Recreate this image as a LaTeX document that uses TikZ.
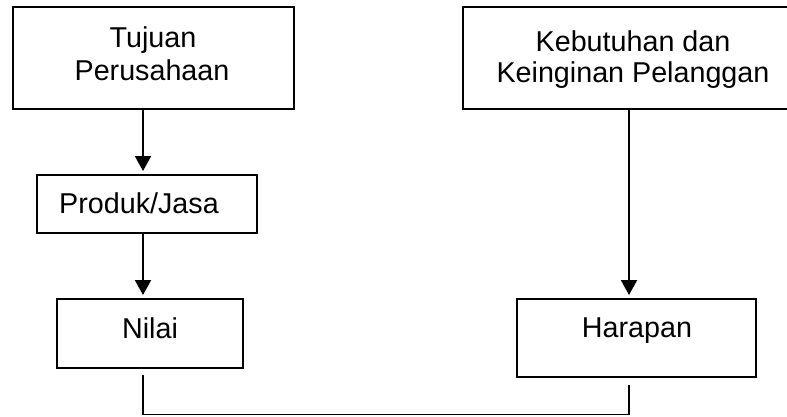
\documentclass[tikz,border=0pt]{standalone}
\usepackage{fontspec}
\setmainfont{Liberation Sans}
\usetikzlibrary{arrows.meta}
\begin{document}
\begin{tikzpicture}[x=1pt,y=-1pt,
  box/.style={draw=black, line width=2pt, rectangle, inner sep=0pt, outer sep=0pt},
  txt/.style={anchor=base, inner sep=0pt, text=black, font=\fontsize{28.7}{33}\selectfont},
  flow/.style={line width=2pt, -{Triangle[width=16pt,length=15pt]}, shorten >=4pt},
  link/.style={line width=1.3pt, shorten <=7pt, shorten >=8pt}]
\useasboundingbox (0,0) rectangle (787,416);
\clip (0,0) rectangle (787,416);

% columns used by the vertical connectors and the bottom rail
\coordinate (colL) at (143,0);
\coordinate (colR) at (629,0);
\coordinate (rail) at (0,414.8);

% boxes
\node[box, minimum width=281pt, minimum height=102pt] (tujuan)    at (153.5,58)  {};
\node[box, minimum width=340pt, minimum height=102pt] (kebutuhan) at (633,58)    {};
\node[box, minimum width=220pt, minimum height=58pt]  (produk)    at (146.5,204) {};
\node[box, minimum width=186pt, minimum height=69pt]  (nilai)     at (150,333.5) {};
\node[box, minimum width=239pt, minimum height=78pt]  (harapan)   at (636.5,338) {};

% labels
\node[txt] (tujuanA)    at (153,47)  {Tujuan};
\node[txt] (tujuanB)    at (152,80)  {Perusahaan};
\node[txt] (kebutuhanA) at (633,51)  {Kebutuhan dan};
\node[txt] (kebutuhanB) at (633,82)  {Keinginan Pelanggan};
\node[txt] (produkT)    at (139,213) {Produk/Jasa};
\node[txt] (nilaiT)     at (150,338) {Nilai};
\node[txt] (harapanT)   at (637,337) {Harapan};

% arrows
\draw[flow] (colL |- tujuan.south)    -- (colL |- produk.north);
\draw[flow] (colL |- produk.south)    -- (colL |- nilai.north);
\draw[flow] (colR |- kebutuhan.south) -- (colR |- harapan.north);

% bottom link between Nilai and Harapan
\draw[link] (colL |- nilai.south) -- (colL |- rail) -- (colR |- rail) -- (colR |- harapan.south);
\end{tikzpicture}
\end{document}
